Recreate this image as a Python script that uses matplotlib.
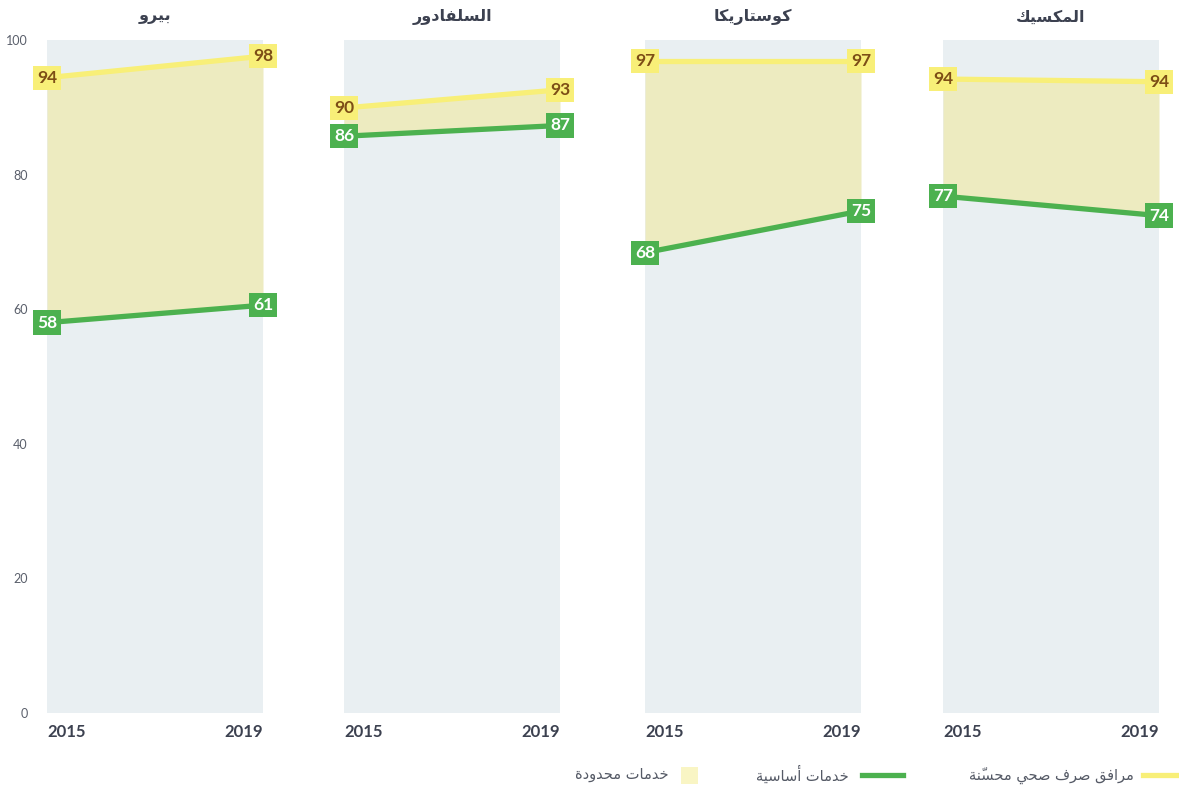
import matplotlib
matplotlib.use('Agg')
import matplotlib.pyplot as plt
from matplotlib.lines import Line2D
from matplotlib.patches import Rectangle

# data
countries = ['بيرو', 'السلفادور', 'كوستاريكا', 'المكسيك']
years = [2015, 2019]
improved = [[94.4, 97.6], [89.9, 92.6], [96.9, 96.9], [94.2, 93.8]]   # مرافق صرف صحي محسّنة
basic = [[58.0, 60.6], [85.7, 87.3], [68.4, 74.6], [76.8, 73.9]]      # خدمات أساسية
legend_labels = ['مرافق صرف صحي محسّنة', 'خدمات أساسية', 'خدمات محدودة']
y_ticks = [0, 20, 40, 60, 80, 100]

# matplotlib 3.10 has no arabic shaping -> use presentation forms + reverse
FORMS = {
    'ا': ('\uFE8D', '\uFE8E'), 'أ': ('\uFE83', '\uFE84'),
    'د': ('\uFEA9', '\uFEAA'), 'ر': ('\uFEAD', '\uFEAE'),
    'و': ('\uFEED', '\uFEEE'), 'ة': ('\uFE93', '\uFE94'),
    'ب': ('\uFE8F', '\uFE90', '\uFE91', '\uFE92'),
    'ت': ('\uFE95', '\uFE96', '\uFE97', '\uFE98'),
    'ح': ('\uFEA1', '\uFEA2', '\uFEA3', '\uFEA4'),
    'خ': ('\uFEA5', '\uFEA6', '\uFEA7', '\uFEA8'),
    'س': ('\uFEB1', '\uFEB2', '\uFEB3', '\uFEB4'),
    'ص': ('\uFEB9', '\uFEBA', '\uFEBB', '\uFEBC'),
    'ف': ('\uFED1', '\uFED2', '\uFED3', '\uFED4'),
    'ق': ('\uFED5', '\uFED6', '\uFED7', '\uFED8'),
    'ك': ('\uFED9', '\uFEDA', '\uFEDB', '\uFEDC'),
    'ل': ('\uFEDD', '\uFEDE', '\uFEDF', '\uFEE0'),
    'م': ('\uFEE1', '\uFEE2', '\uFEE3', '\uFEE4'),
    'ن': ('\uFEE5', '\uFEE6', '\uFEE7', '\uFEE8'),
    'ي': ('\uFEF1', '\uFEF2', '\uFEF3', '\uFEF4'),
}
MARKS = {'\u0651'}


def ar(text):
    chars = list(text)
    letters = [i for i, c in enumerate(chars) if c not in MARKS]
    out = {}
    for k, i in enumerate(letters):
        c = chars[i]
        if c not in FORMS:
            out[i] = c
            continue
        prev = chars[letters[k - 1]] if k > 0 else None
        nxt = chars[letters[k + 1]] if k + 1 < len(letters) else None
        jp = prev in FORMS and len(FORMS[prev]) == 4
        jn = len(FORMS[c]) == 4 and nxt in FORMS
        f = FORMS[c]
        if jp and jn:
            out[i] = f[3]
        elif jp:
            out[i] = f[1]
        elif jn:
            out[i] = f[2]
        else:
            out[i] = f[0]
    clusters = []
    for i, c in enumerate(chars):
        if c in MARKS and clusters:
            clusters[-1] = c + clusters[-1]   # mark goes before its base in visual order
        else:
            clusters.append(out.get(i, c))
    return ''.join(clusters[::-1])


bg = '#e9eff2'
fill_c = '#edebc0'
yellow = '#f8ef78'
green = '#4cb14f'
brown = '#7d4e16'
dark = '#3c4150'

fig = plt.figure(figsize=(11.79, 7.88), dpi=100)
W, H = 1179, 788
lefts = [47, 344, 645, 943]

for n, name in enumerate(countries):
    ax = fig.add_axes([lefts[n] / W, 75 / H, 216 / W, 673 / H])
    ax.set_facecolor(bg)
    for s in ax.spines.values():
        s.set_visible(False)
    ax.set_xlim(years[0], years[-1])
    ax.set_ylim(0, 100)

    ax.fill_between(years, basic[n], improved[n], color=fill_c, lw=0, zorder=1)
    ax.plot(years, improved[n], color=yellow, lw=3.8, solid_capstyle='butt', zorder=2, clip_on=False)
    ax.plot(years, basic[n], color=green, lw=3.8, solid_capstyle='butt', zorder=2, clip_on=False)

    for x, v in zip(years, improved[n]):
        ax.text(x, v, '%.0f' % v, ha='center', va='center', fontsize=12.5, fontweight='bold',
                family='Lato', color=brown, zorder=5, clip_on=False,
                bbox=dict(boxstyle='square,pad=0.24', fc=yellow, ec='none'))
    for x, v in zip(years, basic[n]):
        ax.text(x, v, '%.0f' % v, ha='center', va='center', fontsize=12.5, fontweight='bold',
                family='Lato', color='white', zorder=5, clip_on=False,
                bbox=dict(boxstyle='square,pad=0.24', fc=green, ec='none'))

    ax.text(0.5, 1 + 23 / 673, ar(name), transform=ax.transAxes, ha='center', va='center',
            fontsize=11.5, fontweight='bold', family='DejaVu Sans', color=dark)

    ax.set_xticks(years)
    ax.set_xticklabels([str(y) for y in years], fontsize=12, fontweight='bold',
                       family='Lato', color=dark)
    xl = ax.get_xticklabels()
    xl[0].set_ha('left')
    xl[1].set_ha('right')
    ax.tick_params(axis='x', length=0, pad=8)
    ax.set_yticks(y_ticks)
    if n == 0:
        ax.set_yticklabels([str(t) for t in y_ticks], fontsize=9, family='Lato', color='#5a5f6b')
        ax.tick_params(axis='y', length=0, pad=14)
    else:
        ax.set_yticklabels([])
        ax.tick_params(axis='y', length=0)

# legend drawn by hand (right to left)
ly = 1 - 775 / H
fig.add_artist(Line2D([1143 / W, 1179 / W], [ly, ly], color=yellow, lw=3.8, transform=fig.transFigure))
fig.text(1134 / W, ly, ar(legend_labels[0]), ha='right', va='center', fontsize=10.5,
         family='DejaVu Sans', color='#555a66')
fig.add_artist(Line2D([862 / W, 903 / W], [ly, ly], color=green, lw=3.8, transform=fig.transFigure))
fig.text(849 / W, ly, ar(legend_labels[1]), ha='right', va='center', fontsize=10.5,
         family='DejaVu Sans', color='#555a66')
fig.add_artist(Rectangle((681 / W, ly - 9 / H), 17 / W, 17 / H, fc='#f9f5c4', ec='none',
                         transform=fig.transFigure))
fig.text(669 / W, ly, ar(legend_labels[2]), ha='right', va='center', fontsize=10.5,
         family='DejaVu Sans', color='#555a66')

fig.savefig('out.png', dpi=100)
